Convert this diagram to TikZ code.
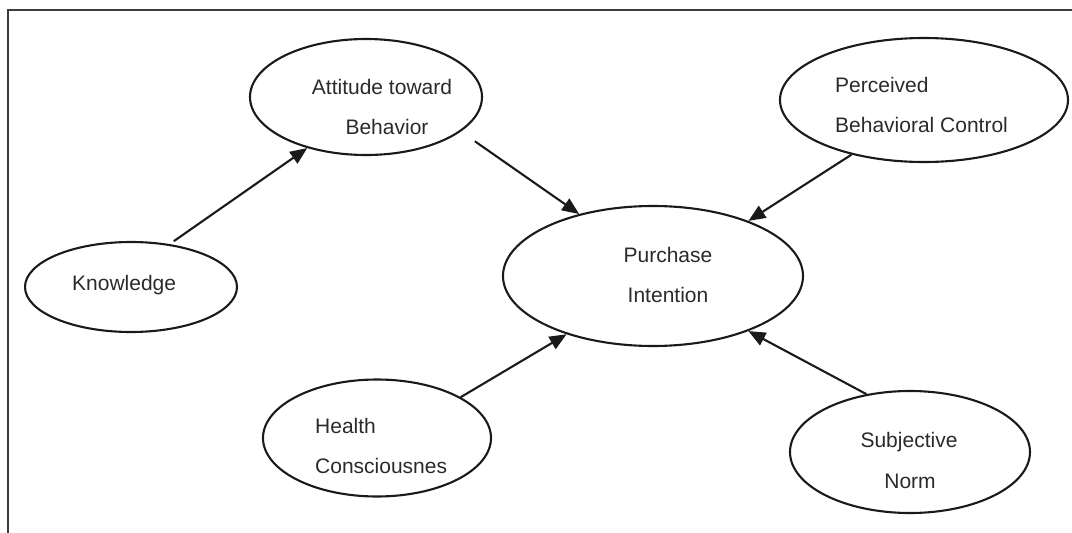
\documentclass[tikz,border=0pt]{standalone}
\usepackage{fontspec}
\setmainfont{Liberation Sans}
\usetikzlibrary{shapes.geometric,arrows.meta}
\definecolor{ink}{HTML}{1A1A1A}
\definecolor{txt}{HTML}{2A2A2A}
\definecolor{rule}{HTML}{3C3C3C}
\begin{document}
\begin{tikzpicture}[x=1pt,y=-1pt,
  construct/.style={draw=ink, line width=2.1pt, ellipse, inner sep=0pt},
  lbl/.style={text=txt, font=\fontsize{21}{25}\selectfont, inner sep=0pt},
  link/.style={draw=ink, line width=2.1pt, -{Triangle[length=17pt,width=14pt]}}]
  \useasboundingbox (0,0) rectangle (1072,533);

  % open frame: left and top edges only
  \draw[rule, line width=2.4pt] (8,533) -- (8,10) -- (1072,10);

  % constructs
  \node[construct, minimum width=232pt, minimum height=116pt] (att) at (366,97) {};
  \node[construct, minimum width=288pt, minimum height=124pt] (pbc) at (924,100) {};
  \node[construct, minimum width=300pt, minimum height=140pt] (pi)  at (653,276) {};
  \node[construct, minimum width=212pt, minimum height=90pt]  (kn)  at (131,287) {};
  \node[construct, minimum width=228pt, minimum height=117pt] (hc)  at (377,438) {};
  \node[construct, minimum width=240pt, minimum height=122pt] (sn)  at (910,452) {};

  % labels
  \node[lbl, anchor=base] (att1) at (382,94)  {Attitude toward};
  \node[lbl, anchor=base] (att2) at (387,134) {Behavior};
  \node[lbl, anchor=base west] (pbc1) at (835,92)  {Perceived};
  \node[lbl, anchor=base west] (pbc2) at (835,132) {Behavioral Control};
  \node[lbl, anchor=base] (pi1) at (668,262) {Purchase};
  \node[lbl, anchor=base] (pi2) at (668,302) {Intention};
  \node[lbl, anchor=base west] (kn1) at (72,290) {Knowledge};
  \node[lbl, anchor=base west] (hc1) at (315,433) {Health};
  \node[lbl, anchor=base west] (hc2) at (315,473) {Consciousnes};
  \node[lbl, anchor=base] (sn1) at (909,447) {Subjective};
  \node[lbl, anchor=base] (sn2) at (910,488) {Norm};

  % paths
  \draw[link, shorten <=5pt] (kn.48) -- (att.221);
  \draw[link, shorten <=17pt] (att.-20) -- (pi.140);
  \draw[link] (pbc.217) -- (pi.30);
  \draw[link] (hc.26) -- (pi.214);
  \draw[link] (sn.127) -- (pi.-30);
\end{tikzpicture}
\end{document}
